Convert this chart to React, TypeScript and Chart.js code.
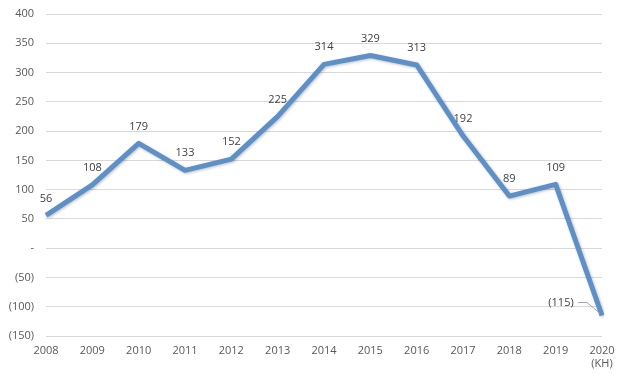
import React, { useEffect, useRef } from "react";
import { Chart, registerables } from "chart.js";

Chart.register(...registerables);

const years: (string | string[])[] = [
  "2008", "2009", "2010", "2011", "2012", "2013", "2014",
  "2015", "2016", "2017", "2018", "2019", ["2020", "(KH)"],
];
const values: number[] = [56, 108, 179, 133, 152, 225, 314, 329, 313, 192, 89, 109, -115];
const yMin = -150;
const yMax = 400;
const yStep = 50;

const fmt = (v: number) => (v === 0 ? "-" : v < 0 ? `(${Math.abs(v)})` : `${v}`);

const FONT = "'Open Sans', 'Liberation Sans', sans-serif";

const shadowPlugin = {
  id: "lineShadow",
  beforeDatasetDraw(chart: any) {
    const ctx = chart.ctx;
    ctx.save();
    ctx.shadowColor = "rgba(0,0,0,0.25)";
    ctx.shadowBlur = 3;
    ctx.shadowOffsetX = 1;
    ctx.shadowOffsetY = 1;
  },
  afterDatasetDraw(chart: any) {
    chart.ctx.restore();
  },
};

const labelPlugin = {
  id: "valueLabels",
  afterDatasetsDraw(chart: any) {
    const ctx = chart.ctx;
    const meta = chart.getDatasetMeta(0);
    const data = chart.data.datasets[0].data as number[];
    ctx.save();
    ctx.font = `11px ${FONT}`;
    ctx.fillStyle = "#404040";
    ctx.textAlign = "center";
    ctx.textBaseline = "middle";
    meta.data.forEach((pt: any, i: number) => {
      const v = data[i];
      if (v < 0) {
        ctx.fillText(fmt(v), pt.x - 41, pt.y - 13);
        ctx.strokeStyle = "#A6A6A6";
        ctx.lineWidth = 1;
        ctx.beginPath();
        ctx.moveTo(pt.x - 24, pt.y - 13);
        ctx.lineTo(pt.x - 15, pt.y - 13);
        ctx.lineTo(pt.x - 2, pt.y - 2);
        ctx.stroke();
      } else {
        ctx.fillText(fmt(v), pt.x, pt.y - 17);
      }
    });
    ctx.restore();
  },
};

export default function App() {
  const ref = useRef<HTMLCanvasElement | null>(null);

  useEffect(() => {
    if (!ref.current) return;
    const chart = new Chart(ref.current, {
      type: "line",
      data: {
        labels: years,
        datasets: [
          {
            data: values,
            borderColor: "#5E90C8",
            borderWidth: 5,
            pointRadius: 0,
            borderJoinStyle: "round",
            borderCapStyle: "butt",
            tension: 0,
            fill: false,
          },
        ],
      },
      options: {
        animation: false,
        responsive: true,
        maintainAspectRatio: false,
        layout: { padding: { left: 0, right: 24, top: 14, bottom: 0 } },
        plugins: {
          legend: { display: false },
          tooltip: { enabled: false },
        },
        scales: {
          x: {
            offset: false,
            grid: { display: false, drawTicks: false },
            border: { display: false },
            ticks: {
              color: "#595959",
              font: { family: FONT, size: 11 },
              padding: 8,
              maxRotation: 0,
              autoSkip: false,
            },
            afterFit(scale: any) {
              scale.height = 42;
            },
          },
          y: {
            min: yMin,
            max: yMax,
            grid: { color: "#D9D9D9", lineWidth: 1, drawTicks: false },
            border: { display: false },
            ticks: {
              stepSize: yStep,
              color: "#595959",
              font: { family: FONT, size: 11 },
              padding: 12,
              callback: (v: any) => fmt(Number(v)),
            },
            afterFit(scale: any) {
              scale.width = 46;
              scale.paddingTop = 7;
              scale.paddingBottom = 7;
            },
          },
        },
      },
      plugins: [shadowPlugin, labelPlugin],
    });
    return () => chart.destroy();
  }, []);

  return (
    <div style={{ position: "absolute", left: 0, top: 0, width: 626, height: 378, background: "#fff" }}>
      <canvas ref={ref} />
    </div>
  );
}
